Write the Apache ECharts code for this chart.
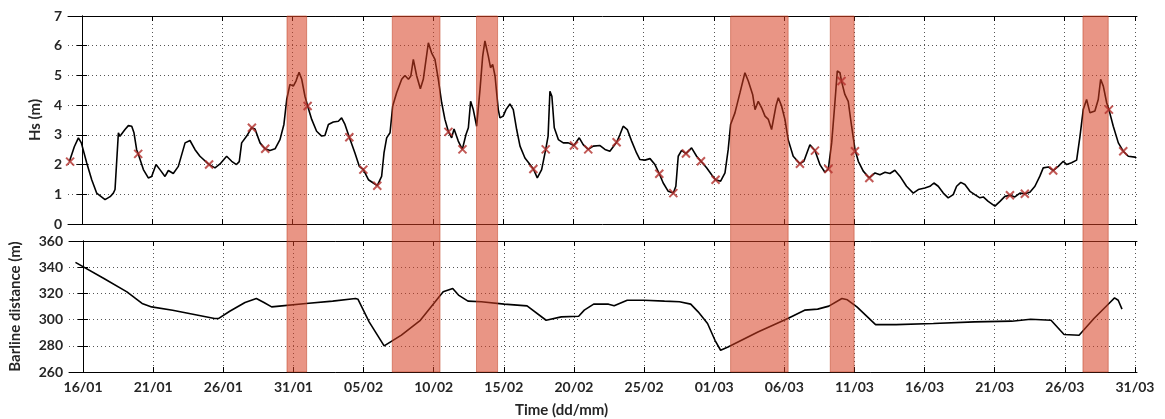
<!DOCTYPE html>
<html><head><meta charset="utf-8">
<script src="https://cdn.jsdelivr.net/npm/echarts@6/dist/echarts.min.js"></script>
<style>html,body{margin:0;padding:0;background:#fff}#c{width:1165px;height:419px}</style>
</head><body><div id="c"></div>
<script>
// x values are days since 16/01 (leap year)
const tickDays = [0,5,10,15,20,25,30,35,40,45,50,55,60,65,70,75];
const tickLabels = ['16/01','21/01','26/01','31/01','05/02','10/02','15/02','20/02','25/02','01/03','06/03','11/03','16/03','21/03','26/03','31/03'];
const hsTicks = [0,1,2,3,4,5,6,7];
const barTicks = [260,280,300,320,340,360];

const hsDays = [-0.9,-0.55,-0.26,-0.05,0.33,0.69,1.04,1.64,2.0,2.23,2.35,2.59,2.7,3.06,3.3,3.54,3.7,3.89,4.0,4.37,4.72,4.96,5.27,5.55,5.91,6.15,6.5,6.86,7.34,7.69,8.05,8.4,9.05,9.47,9.83,10.3,10.66,11.0,11.2,11.37,11.73,12.08,12.32,12.68,13.03,13.39,13.75,14.1,14.38,14.58,14.81,15.05,15.24,15.46,15.65,15.88,16.07,16.36,16.71,17.07,17.3,17.55,17.9,18.26,18.49,18.73,19.04,19.44,19.75,20.04,20.4,20.75,21.03,21.34,21.51,21.7,21.94,22.13,22.41,22.77,23.0,23.25,23.42,23.6,23.84,24.1,24.31,24.67,24.9,25.14,25.38,25.62,25.85,26.09,26.33,26.5,26.8,27.09,27.35,27.52,27.68,27.87,28.11,28.35,28.54,28.7,28.94,29.1,29.25,29.42,29.65,29.77,30.0,30.2,30.48,30.72,30.96,31.2,31.55,31.91,32.15,32.43,32.74,33.03,33.2,33.33,33.47,33.64,33.93,34.28,34.64,35.04,35.42,35.7,36.06,36.42,36.9,37.25,37.6,38.08,38.32,38.55,38.84,39.15,39.5,39.74,40.1,40.46,40.81,41.12,41.4,41.76,42.12,42.3,42.47,42.71,43.02,43.42,43.78,44.09,44.49,44.85,45.13,45.49,45.8,46.03,46.2,46.51,46.87,47.22,47.46,47.77,47.94,48.17,48.41,48.65,48.89,49.12,49.43,49.6,49.83,50.07,50.3,50.66,51.14,51.42,51.85,52.21,52.56,52.92,53.16,53.4,53.63,53.8,53.99,54.1,54.34,54.58,54.82,55.06,55.3,55.65,56.08,56.49,56.84,57.2,57.55,57.9,58.26,58.73,59.21,59.57,60.04,60.4,60.68,60.99,61.35,61.7,62.06,62.3,62.6,62.89,63.25,63.6,63.96,64.2,64.55,65.03,65.39,65.74,66.1,66.45,66.81,67.16,67.52,67.88,68.23,68.47,68.83,69.18,69.54,69.9,70.14,70.49,70.85,71.09,71.32,71.56,71.8,72.15,72.39,72.56,72.75,72.99,73.15,73.46,73.82,74.17,74.53,75.0,75.1];
const hsValues = [2.1,2.6,2.9,2.73,2.06,1.49,1.04,0.82,0.92,1.04,1.16,3.07,2.95,3.18,3.31,3.29,3.07,2.5,2.36,1.83,1.55,1.6,2.0,1.83,1.6,1.8,1.7,1.94,2.73,2.81,2.5,2.28,2.0,1.89,2.02,2.28,2.11,2.0,2.1,2.73,2.96,3.24,3.2,2.73,2.53,2.47,2.53,2.84,3.35,4.19,4.7,4.64,4.81,5.11,4.87,4.3,3.97,3.52,3.12,2.96,2.98,3.35,3.43,3.46,3.57,3.35,2.92,2.39,1.94,1.83,1.49,1.38,1.29,1.6,2.39,2.9,3.07,3.97,4.42,4.87,5.0,4.87,4.98,5.54,4.98,4.55,4.87,6.1,5.76,5.54,4.87,4.08,3.52,3.12,2.9,3.2,2.79,2.51,3.01,3.24,4.13,3.85,3.29,4.53,5.65,6.16,5.65,5.26,5.37,4.98,3.85,3.57,3.63,3.85,4.04,3.85,3.18,2.62,2.22,2.0,1.85,1.55,1.83,2.51,2.96,4.47,4.3,3.24,2.84,2.73,2.73,2.64,2.9,2.67,2.51,2.62,2.64,2.51,2.45,2.75,3.01,3.29,3.18,2.79,2.39,2.17,2.15,2.2,2.0,1.69,1.38,1.1,1.04,1.27,2.28,2.48,2.37,2.56,2.28,2.11,1.89,1.66,1.49,1.44,1.72,2.51,3.35,3.74,4.42,5.09,4.81,4.36,3.85,4.13,3.91,3.63,3.52,3.18,3.97,4.25,3.97,3.52,2.84,2.28,2.03,2.11,2.67,2.47,2.0,1.74,1.85,2.73,4.08,5.15,5.09,4.81,4.36,4.13,3.29,2.51,2.11,1.78,1.55,1.72,1.66,1.74,1.7,1.81,1.61,1.27,1.04,1.16,1.21,1.27,1.38,1.27,1.04,0.88,0.99,1.27,1.4,1.33,1.1,0.99,0.88,0.91,0.76,0.6,0.76,0.93,0.97,0.91,1.04,1.02,1.07,1.27,1.61,1.89,1.92,1.8,1.94,2.11,2.0,2.06,2.15,2.96,3.85,4.19,3.74,3.8,4.19,4.87,4.64,4.08,3.85,3.29,2.73,2.45,2.28,2.25,2.22];

const markerDays = [-0.85,4.0,9.05,12.1,13.05,16.07,19.04,20.04,21.03,26.1,27.1,32.15,33.03,35.04,36.06,38.08,41.12,42.12,43.02,44.09,45.13,51.14,52.21,53.16,54.1,55.06,56.08,66.1,67.16,69.18,73.15,74.17];
const markerValues = [2.1,2.36,2.0,3.24,2.53,3.97,2.92,1.83,1.29,3.1,2.51,1.85,2.51,2.64,2.51,2.75,1.69,1.04,2.37,2.11,1.49,2.03,2.47,1.85,4.81,2.45,1.55,0.97,1.02,1.8,3.85,2.45];

const barDays = [-0.54,1.49,3.13,4.21,4.89,6.39,9.38,9.65,10.46,11.55,12.36,12.9,13.45,14.0,15.9,17.8,19.43,19.6,20.4,21.47,22.7,24.05,25.68,26.36,26.77,27.45,28.4,30.03,31.66,33.02,34.1,35.34,35.74,36.41,37.47,37.87,38.8,40.0,41.46,42.53,43.33,43.86,44.53,45.06,45.46,45.99,48.12,50.25,51.45,52.38,53.18,54.11,54.5,55.18,56.51,57.97,60.63,63.56,66.22,67.56,69.02,69.95,71.02,72.08,73.15,73.55,73.81,74.08];
const barValues = [343.7,331.4,321.2,312.3,309.7,307.2,300.8,300.8,306.4,313.1,316.1,313.1,309.7,310.3,312.3,314.1,316.1,315.6,298.3,279.9,288.1,299.5,321.2,323.8,318.7,314.1,313.6,311.8,310.5,299.5,302.1,302.6,307.2,311.8,311.8,310.5,314.8,314.8,314.1,313.6,311.8,305.9,297.0,284.2,276.6,279.1,290.6,300.8,307.2,308.0,310.3,316.1,315.1,309.7,296.2,296.2,297.0,298.3,298.8,300.3,299.5,288.6,288.1,300.8,312.3,316.6,314.8,308.0];

const bandStart = [14.6, 22.1, 28.1, 46.2, 53.3, 71.3];
const bandEnd   = [16.0, 25.5, 29.6, 50.3, 55.0, 73.1];

const FONT = 'Lato';
const TXT = '#262626';
const X_MIN = -1, X_MAX = 75.15;

function xAx(grid, pos, showLabels) {
  return {
    type: 'value', gridIndex: grid, position: pos, min: X_MIN, max: X_MAX,
    axisLine: { show: true, onZero: false, lineStyle: { color: '#000', width: 1 } },
    axisTick: { show: true, inside: true, length: 5, customValues: tickDays, lineStyle: { color: '#000' } },
    axisLabel: { show: showLabels, customValues: tickDays, margin: 8,
      formatter: v => tickLabels[tickDays.indexOf(v)] || '',
      fontFamily: FONT, fontWeight: 'bold', fontSize: 14, color: TXT },
    splitLine: { show: pos === 'bottom', lineStyle: { color: '#555', type: [1, 3], width: 1 } }
  };
}
function yAx(grid, pos, ticks, name, gap) {
  return {
    type: 'value', gridIndex: grid, position: pos, min: ticks[0], max: ticks[ticks.length - 1],
    interval: ticks[1] - ticks[0],
    name: pos === 'left' ? name : '', nameLocation: 'middle', nameGap: gap,
    nameTextStyle: { fontFamily: FONT, fontWeight: 'bold', fontSize: 15, color: TXT },
    axisLine: { show: true, lineStyle: { color: '#000', width: 1 } },
    axisTick: { show: true, inside: true, length: 5, lineStyle: { color: '#000' } },
    axisLabel: { show: pos === 'left', margin: 6, fontFamily: FONT, fontWeight: 'bold', fontSize: 14, color: TXT },
    splitLine: { show: pos === 'left', lineStyle: { color: '#555', type: [1, 3], width: 1 } }
  };
}

const chart = echarts.init(document.getElementById('c'));
chart.setOption({
  animation: false,
  backgroundColor: '#fff',
  title: { text: 'Time (dd/mm)', left: 510, top: 398,
    textStyle: { fontFamily: FONT, fontWeight: 'bold', fontSize: 15, color: TXT } },
  grid: [
    { left: 68, top: 16, width: 1069, height: 208 },
    { left: 68, top: 241, width: 1069, height: 131 },
    { left: 68, top: 16, width: 1069, height: 356 }
  ],
  xAxis: [
    xAx(0, 'bottom', false), xAx(0, 'top', false),
    xAx(1, 'bottom', true), xAx(1, 'top', false),
    { type: 'value', gridIndex: 2, min: X_MIN, max: X_MAX, show: false }
  ],
  yAxis: [
    yAx(0, 'left', hsTicks, 'Hs (m)', 24), yAx(0, 'right', hsTicks, '', 0),
    yAx(1, 'left', barTicks, 'Barline distance (m)', 46), yAx(1, 'right', barTicks, '', 0),
    { type: 'value', gridIndex: 2, min: 0, max: 1, show: false }
  ],
  series: [
    { type: 'line', xAxisIndex: 0, yAxisIndex: 0, z: 2, symbol: 'none',
      lineStyle: { color: '#000', width: 1.6 },
      data: hsDays.map((d, i) => [d, hsValues[i]]) },
    { type: 'line', xAxisIndex: 2, yAxisIndex: 2, z: 2, symbol: 'none',
      lineStyle: { color: '#000', width: 1.6 },
      data: barDays.map((d, i) => [d, barValues[i]]) },
    { type: 'line', xAxisIndex: 4, yAxisIndex: 4, z: 4, symbol: 'none', silent: true,
      lineStyle: { opacity: 0 },
      data: [[bandStart[0], -1]],
      markArea: { silent: true, z: 4,
        itemStyle: { color: 'rgba(215,62,32,0.55)', borderColor: 'rgba(190,60,30,0.5)', borderWidth: 1 },
        data: bandStart.map((s, i) => [{ xAxis: s }, { xAxis: bandEnd[i] }]) } },
    { type: 'scatter', xAxisIndex: 0, yAxisIndex: 0, z: 6,
      symbol: 'path://M0,0L10,10M10,0L0,10', symbolSize: 8,
      itemStyle: { color: 'rgba(0,0,0,0)', borderColor: '#b3302c', borderWidth: 2 },
      data: markerDays.map((d, i) => [d, markerValues[i]]) }
  ]
});
</script></body></html>
